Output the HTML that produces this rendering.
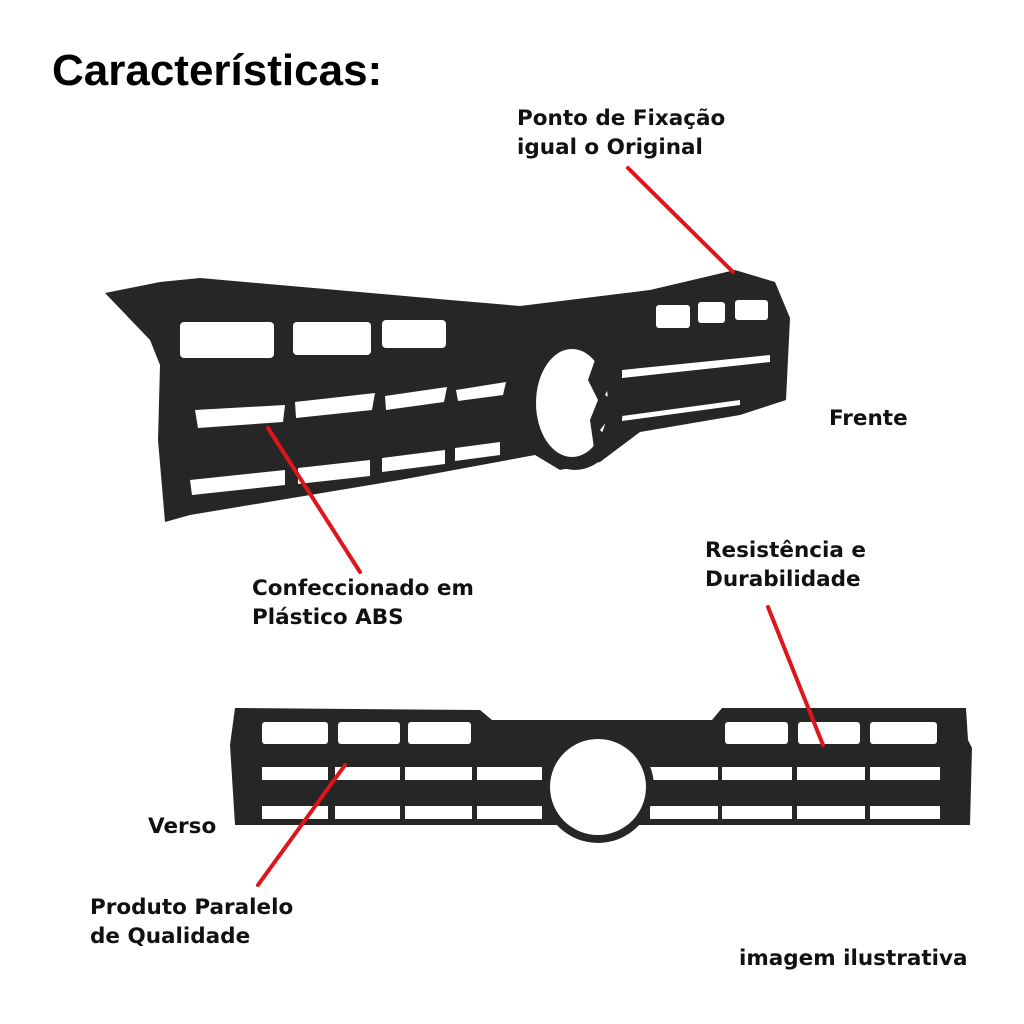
<!DOCTYPE html>
<html><head><meta charset="utf-8"><style>
body{margin:0;background:#fff;}
.w{position:relative;width:1024px;height:1024px;overflow:hidden;font-family:"DejaVu Sans",sans-serif;}
.t{position:absolute;font-weight:bold;color:#111;font-size:21.5px;line-height:29px;white-space:nowrap;}
</style></head><body><div class="w">
<svg width="1024" height="1024" style="position:absolute;left:0;top:0">
<polygon points="105,293 160,282 200,278 450,300 520,306 650,290 735,270 775,282 790,318 786,400 740,415 640,432 600,462 560,470 535,455 400,480 190,515 165,522 158,440 160,365 150,340" fill="#262626"/>
<g fill="#ffffff">
<rect x="180" y="322" width="94" height="36" rx="4"/>
<rect x="293" y="322" width="78" height="33" rx="4"/>
<rect x="382" y="320" width="64" height="28" rx="4"/>
<rect x="656" y="305" width="34" height="23" rx="3"/>
<rect x="698" y="302" width="27" height="21" rx="3"/>
<rect x="735" y="300" width="33" height="20" rx="3"/>
<polygon points="195,410 285,405 283,422 198,428"/>
<polygon points="295,402 375,393 372,410 296,418"/>
<polygon points="385,396 447,387 444,402 386,410"/>
<polygon points="456,390 506,382 503,395 458,401"/>
<polygon points="622,370 770,355 770,362 622,378"/>
<polygon points="622,416 740,400 740,405 622,421"/>
<polygon points="190,480 285,470 285,485 192,495"/>
<polygon points="298,468 370,460 370,476 298,484"/>
<polygon points="382,458 445,450 445,464 382,472"/>
<polygon points="455,448 500,442 500,455 455,461"/>
</g>
<ellipse cx="575" cy="406" rx="48" ry="64" fill="#262626"/>
<ellipse cx="572" cy="403" rx="36" ry="54" fill="#fff"/>
<polygon points="595,360 615,375 605,395 620,405 600,430 610,440 595,455 590,420 598,400 588,380" fill="#262626"/>
<polygon points="235,708 480,710 492,720 712,720 722,708 966,708 968,740 972,748 970,825 235,825 230,745" fill="#262626"/>
<g fill="#fff">
<rect x="262" y="722" width="66" height="22" rx="3"/>
<rect x="338" y="722" width="62" height="22" rx="3"/>
<rect x="408" y="722" width="63" height="22" rx="3"/>
<rect x="725" y="722" width="63" height="22" rx="3"/>
<rect x="798" y="722" width="62" height="22" rx="3"/>
<rect x="870" y="722" width="67" height="22" rx="3"/>
<rect x="262" y="767" width="66" height="13"/>
<rect x="335" y="767" width="65" height="13"/>
<rect x="405" y="767" width="67" height="13"/>
<rect x="477" y="767" width="65" height="13"/>
<rect x="650" y="767" width="68" height="13"/>
<rect x="722" y="767" width="70" height="13"/>
<rect x="797" y="767" width="68" height="13"/>
<rect x="870" y="767" width="70" height="13"/>
<rect x="262" y="806" width="66" height="13"/>
<rect x="335" y="806" width="65" height="13"/>
<rect x="405" y="806" width="67" height="13"/>
<rect x="477" y="806" width="65" height="13"/>
<rect x="650" y="806" width="68" height="13"/>
<rect x="722" y="806" width="70" height="13"/>
<rect x="797" y="806" width="68" height="13"/>
<rect x="870" y="806" width="70" height="13"/>
</g>
<circle cx="598" cy="787" r="56" fill="#262626"/>
<circle cx="598" cy="787" r="48" fill="#fff"/>
<g stroke="#e0141b" stroke-width="4" stroke-linecap="round">
<line x1="628" y1="168" x2="733" y2="272"/>
<line x1="268" y1="428" x2="360" y2="572"/>
<line x1="768" y1="607" x2="823" y2="745"/>
<line x1="345" y1="765" x2="258" y2="885"/>
</g>
</svg>
<div class="t" style="left:52px;top:46px;font-family:'Liberation Sans',sans-serif;font-size:44px;line-height:50px;color:#000">Características:</div>
<div class="t" style="left:517px;top:104px">Ponto de Fixação<br>igual o Original</div>
<div class="t" style="left:829px;top:404px">Frente</div>
<div class="t" style="left:252px;top:574px">Confeccionado em<br>Plástico ABS</div>
<div class="t" style="left:705px;top:536px">Resistência e<br>Durabilidade</div>
<div class="t" style="left:148px;top:812px">Verso</div>
<div class="t" style="left:90px;top:893px">Produto Paralelo<br>de Qualidade</div>
<div class="t" style="left:739px;top:944px">imagem ilustrativa</div>
</div></body></html>
